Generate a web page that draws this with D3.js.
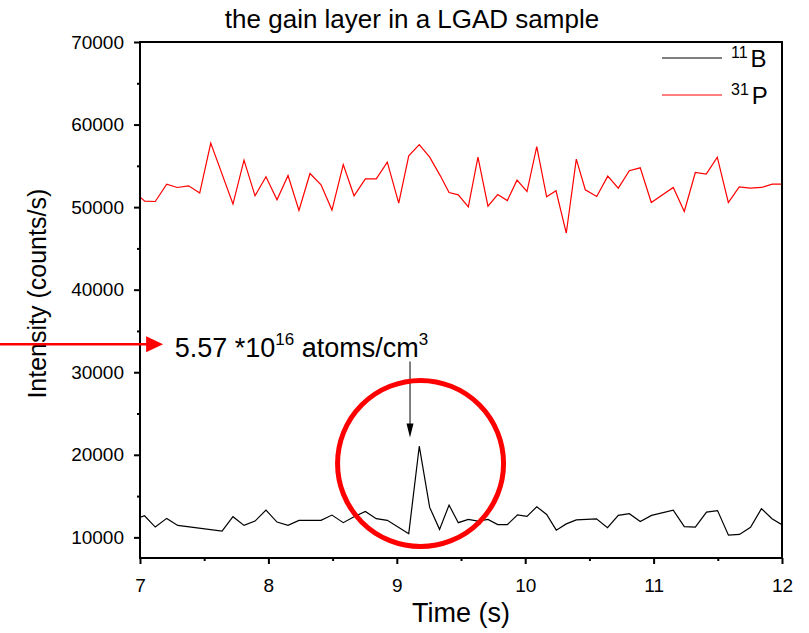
<!DOCTYPE html>
<html>
<head>
<meta charset="utf-8">
<script src="https://cdn.jsdelivr.net/npm/d3@7"></script>
<style>
  body { margin: 0; background: #fff; }
  text { font-family: Arial, "Liberation Sans", sans-serif; }
</style>
</head>
<body>
<div id="chart"></div>
<script>
// time axis (s) and intensity (counts/s)
const timeB = [6.953, 7.035, 7.119, 7.208, 7.294, 7.639, 7.724, 7.810, 7.896, 7.981, 8.067, 8.153, 8.238, 8.410, 8.495, 8.583, 8.667, 8.755, 8.840, 8.926, 9.093, 9.175, 9.256, 9.333, 9.407, 9.479, 9.557, 9.632, 9.710, 9.786, 9.861, 9.940, 10.014, 10.090, 10.167, 10.242, 10.320, 10.398, 10.555, 10.641, 10.725, 10.811, 10.896, 10.984, 11.153, 11.239, 11.325, 11.412, 11.498, 11.583, 11.669, 11.755, 11.840, 11.922, 12.008]
const boron = [12180, 12620, 11250, 12300, 11450, 10760, 12500, 11450, 11970, 13300, 11850, 11450, 12060, 12060, 12700, 11780, 12500, 13140, 12260, 12060, 10450, 21040, 13630, 10970, 13910, 11780, 12180, 11970, 12180, 11540, 11540, 12720, 12540, 13710, 12780, 10870, 11630, 12120, 12240, 11170, 12660, 12870, 11930, 12660, 13300, 11300, 11250, 13060, 13240, 10270, 10360, 11210, 13480, 12260, 11450]

const timeP = [6.953, 7.037, 7.119, 7.208, 7.290, 7.379, 7.465, 7.551, 7.724, 7.810, 7.896, 7.981, 8.067, 8.153, 8.238, 8.324, 8.410, 8.495, 8.583, 8.667, 8.755, 8.840, 8.926, 9.015, 9.093, 9.175, 9.256, 9.339, 9.407, 9.479, 9.557, 9.632, 9.710, 9.786, 9.861, 9.936, 10.014, 10.090, 10.167, 10.240, 10.320, 10.398, 10.468, 10.557, 10.643, 10.725, 10.811, 10.896, 10.982, 11.153, 11.239, 11.325, 11.410, 11.496, 11.582, 11.667, 11.753, 11.839, 11.924, 12.008]
const phosphorus = [51850, 50730, 50680, 52790, 52380, 52580, 51700, 57750, 50370, 55690, 51370, 53670, 50890, 53830, 49590, 54070, 52700, 49640, 55160, 51370, 53430, 53430, 55450, 50490, 56210, 57580, 56050, 53790, 51770, 51490, 50040, 56050, 50130, 51530, 50800, 53270, 51890, 57330, 51250, 51980, 46860, 55810, 52100, 51290, 53750, 52300, 54400, 54760, 50560, 52380, 49470, 54190, 54000, 56050, 50560, 52460, 52300, 52380, 52790, 52790]

const xTicks = [7, 8, 9, 10, 11, 12]
const xMinorTicks = [7.5, 8.5, 9.5, 10.5, 11.5]
const yTicks = [10000, 20000, 30000, 40000, 50000, 60000, 70000]
const yMinorTicks = [15000, 25000, 35000, 45000, 55000, 65000]

const margin = { top: 42, right: 27, bottom: 75, left: 140 }
const width = 809 - margin.left - margin.right
const height = 633 - margin.top - margin.bottom

const svg = d3
  .select('#chart')
  .append('svg')
  .attr('width', 809)
  .attr('height', 633)
  .append('g')
  .attr('transform', 'translate(' + margin.left + ',' + margin.top + ')')

const x = d3.scaleLinear().domain([7, 12]).range([0, width])
const y = d3.scaleLinear().domain([7500, 70000]).range([height, 0])

svg.append('clipPath').attr('id', 'clip')
  .append('rect').attr('width', width).attr('height', height)

const line = d3.line()
  .x(d => x(d[0]))
  .y(d => y(d[1]))

const series = [
  { name: '11', el: 'B', color: 'black', t: timeB, v: boron },
  { name: '31', el: 'P', color: '#ff0000', t: timeP, v: phosphorus }
]

svg.selectAll('.series')
  .data(series)
  .enter()
  .append('path')
  .attr('class', 'series')
  .attr('clip-path', 'url(#clip)')
  .attr('fill', 'none')
  .attr('stroke', d => d.color)
  .attr('stroke-width', 1.2)
  .attr('d', d => line(d.t.map((t, i) => [t, d.v[i]])))

// axes
const xAxis = d3.axisBottom(x).tickValues(xTicks).tickSize(6).tickPadding(15).tickFormat(d3.format('d'))
const xAxisMinor = d3.axisBottom(x).tickValues(xMinorTicks).tickSize(3).tickFormat('')
const yAxis = d3.axisLeft(y).tickValues(yTicks).tickSize(6).tickPadding(10).tickFormat(d3.format('d'))
const yAxisMinor = d3.axisLeft(y).tickValues(yMinorTicks).tickSize(3).tickFormat('')

svg.append('g').attr('class', 'axis').attr('transform', 'translate(0,' + height + ')').call(xAxis)
svg.append('g').attr('class', 'axis').attr('transform', 'translate(0,' + height + ')').call(xAxisMinor)
svg.append('g').attr('class', 'axis').call(yAxis)
svg.append('g').attr('class', 'axis').call(yAxisMinor)

svg.selectAll('.axis .domain').remove()
svg.selectAll('.axis line').attr('stroke', 'black').attr('stroke-width', 2)
svg.selectAll('.axis text').attr('font-size', 19).attr('fill', 'black')
  .style('font-family', 'Arial, "Liberation Sans", sans-serif')

svg.append('rect')
  .attr('width', width)
  .attr('height', height)
  .attr('fill', 'none')
  .attr('stroke', 'black')
  .attr('stroke-width', 2)

// titles
svg.append('text')
  .attr('x', 412 - margin.left)
  .attr('y', -14)
  .attr('text-anchor', 'middle')
  .attr('font-size', 26)
  .text('the gain layer in a LGAD sample')

svg.append('text')
  .attr('x', width / 2)
  .attr('y', height + 64)
  .attr('text-anchor', 'middle')
  .attr('font-size', 27)
  .text('Time (s)')

svg.append('text')
  .attr('transform', 'translate(' + (-94) + ',' + (y(40000) + 4) + ') rotate(-90)')
  .attr('text-anchor', 'middle')
  .attr('font-size', 25)
  .text('Intensity (counts/s)')

// legend
const legend = svg.selectAll('.legend')
  .data(series)
  .enter()
  .append('g')
  .attr('class', 'legend')
  .attr('transform', (d, i) => 'translate(' + (width - 120) + ',' + (16 + i * 37) + ')')

legend.append('line')
  .attr('x1', 0).attr('x2', 60)
  .attr('stroke', d => d.color)
  .attr('stroke-width', 1.2)

const legendText = legend.append('text')
  .attr('x', 69)
  .attr('y', 9)
  .attr('font-size', 24)
legendText.append('tspan').attr('font-size', 16).attr('dy', -9).text(d => d.name)
legendText.append('tspan').attr('dx', 3).attr('dy', 9).text(d => d.el)

// annotation: peak concentration
const arrowY = y(33400)
const arrowTip = x(7.18)
svg.append('line')
  .attr('x1', -margin.left).attr('x2', arrowTip - 14)
  .attr('y1', arrowY).attr('y2', arrowY)
  .attr('stroke', '#ff0000')
  .attr('stroke-width', 2.5)
svg.append('path')
  .attr('d', 'M' + arrowTip + ',' + arrowY + 'L' + (arrowTip - 17) + ',' + (arrowY - 8) + 'L' + (arrowTip - 17) + ',' + (arrowY + 8) + 'Z')
  .attr('fill', '#ff0000')

const note = svg.append('text')
  .attr('x', x(7.27))
  .attr('y', y(31900))
  .attr('font-size', 27)
note.append('tspan').text('5.57 *10')
note.append('tspan').attr('font-size', 17).attr('dy', -12).text('16')
note.append('tspan').attr('dy', 12).text(' atoms/cm')
note.append('tspan').attr('font-size', 17).attr('dy', -12).text('3')

const peakX = x(9.103)
svg.append('line')
  .attr('x1', peakX).attr('x2', peakX)
  .attr('y1', y(31300)).attr('y2', y(23000))
  .attr('stroke', 'black')
  .attr('stroke-width', 1)
svg.append('path')
  .attr('d', 'M' + peakX + ',' + y(22100) + 'L' + (peakX - 3.5) + ',' + (y(22100) - 14) + 'L' + (peakX + 3.5) + ',' + (y(22100) - 14) + 'Z')
  .attr('fill', 'black')

svg.append('circle')
  .attr('cx', x(9.185))
  .attr('cy', y(18950))
  .attr('r', 83)
  .attr('fill', 'none')
  .attr('stroke', '#ff0000')
  .attr('stroke-width', 5)
</script>
</body>
</html>
